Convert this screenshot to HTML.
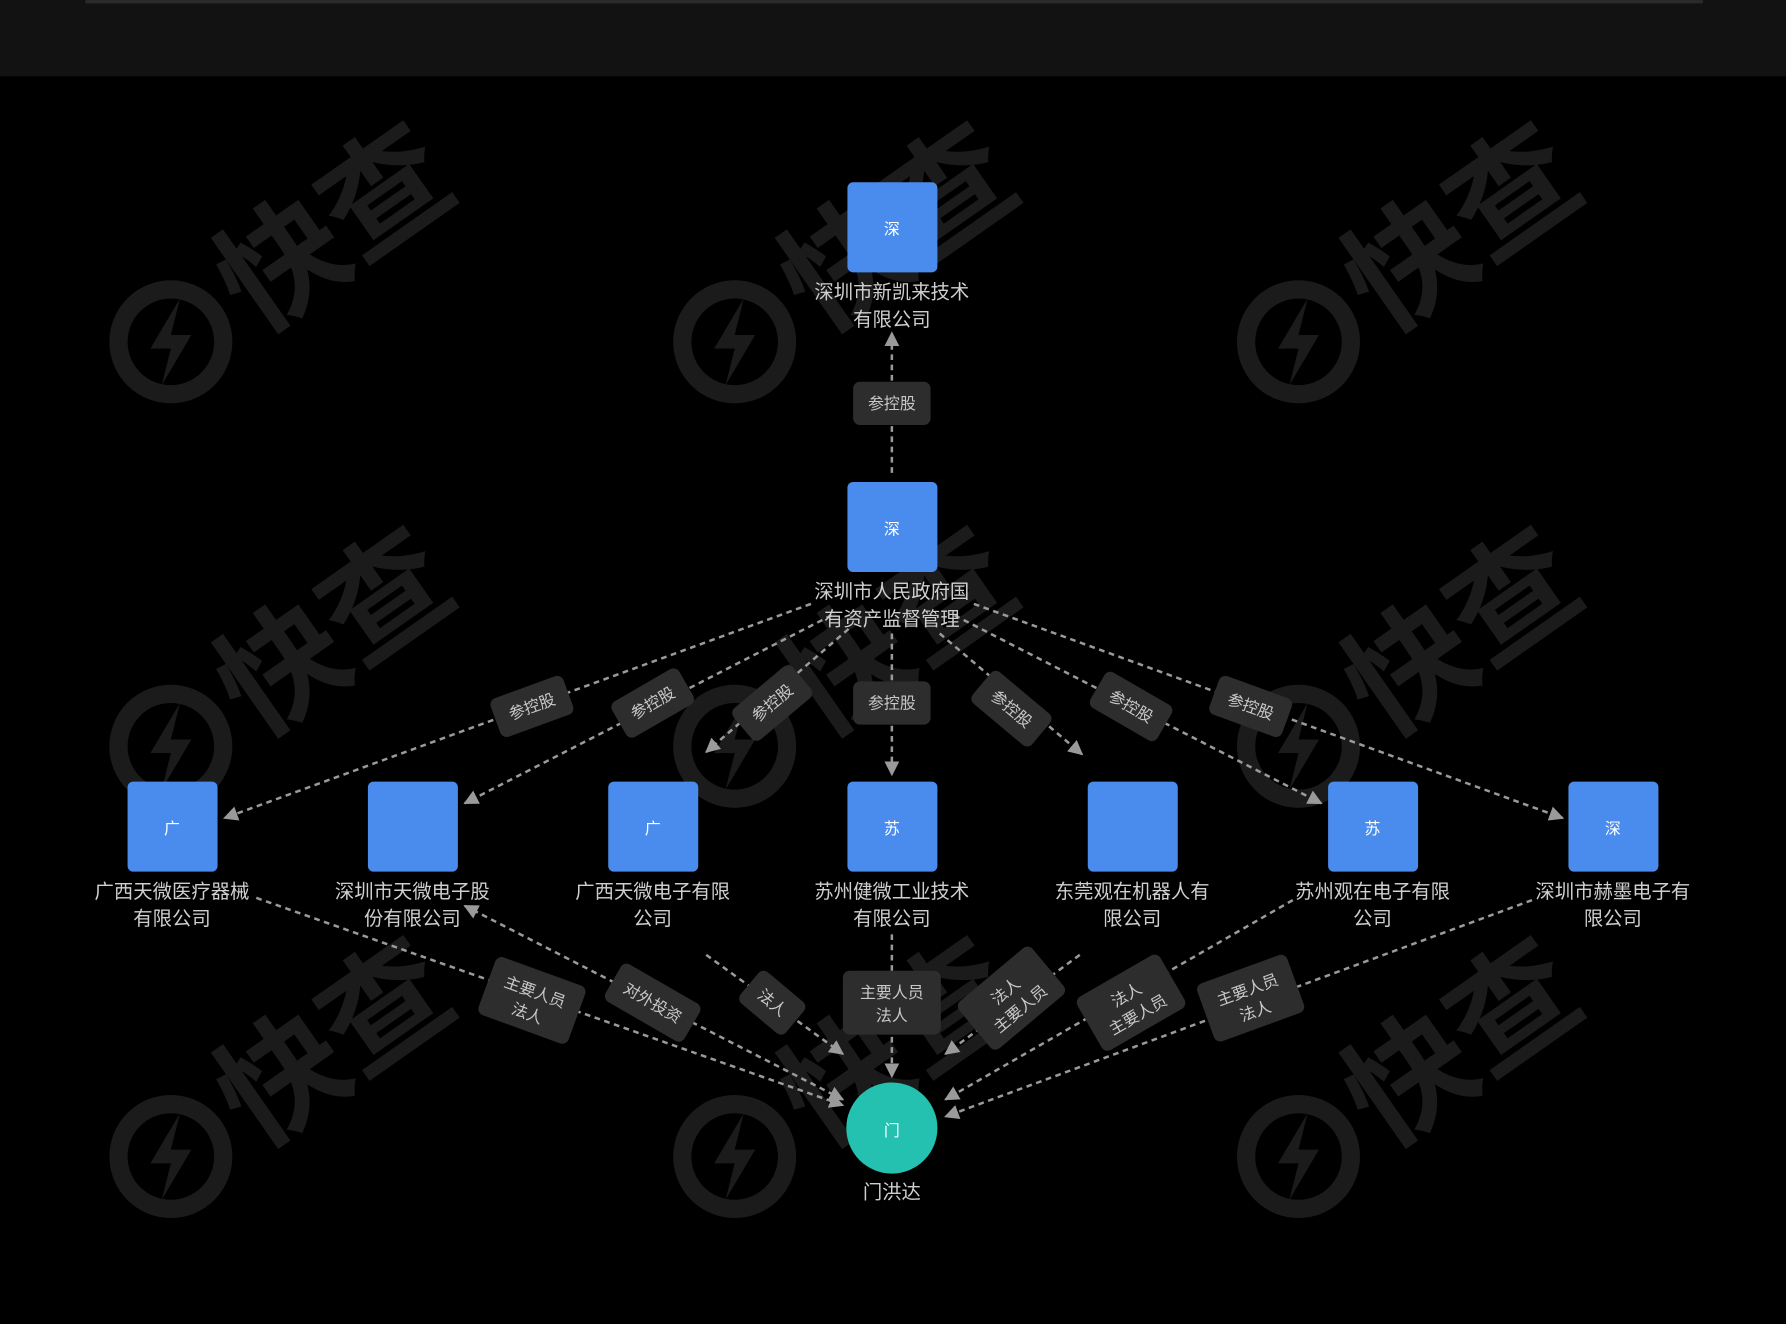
<!DOCTYPE html>
<html><head><meta charset="utf-8"><style>
html,body{margin:0;padding:0;background:#000;}
svg{display:block;}
text{font-family:"Liberation Sans","Noto Sans CJK SC",sans-serif;}
</style></head><body>
<svg width="1786" height="1324" viewBox="0 0 1568 1162" preserveAspectRatio="none" xmlns="http://www.w3.org/2000/svg">
<defs>
<marker id="a" viewBox="0 0 10 10" refX="9" refY="5" markerWidth="13" markerHeight="13" markerUnits="userSpaceOnUse" orient="auto"><path d="M0,0 L10,5 L0,10 z" fill="#9a9a9a"/></marker>
<marker id="b" viewBox="0 0 10 10" refX="1" refY="5" markerWidth="13" markerHeight="13" markerUnits="userSpaceOnUse" orient="auto"><path d="M10,0 L0,5 L10,10 z" fill="#9a9a9a"/></marker>
<g id="wm">
<circle cx="0" cy="0" r="46" fill="none" stroke="#1b1b1b" stroke-width="16"/>
<path d="M8,-38 L-18,6 L0,6 L-8,38 L18,-6 L0,-6 z" fill="#1b1b1b"/>
<text x="75" y="-5" font-size="110" font-weight="bold" fill="#1b1b1b" transform="rotate(-35 75 -5)">快查</text>
</g>
</defs>
<rect width="1568" height="1162" fill="#000"/>
<rect width="1568" height="67" fill="#121212"/>
<rect x="75" y="0" width="1420" height="3" fill="#2a2a2a"/>

<use href="#wm" x="150" y="300"/><use href="#wm" x="645" y="300"/><use href="#wm" x="1140" y="300"/>
<use href="#wm" x="150" y="655"/><use href="#wm" x="645" y="655"/><use href="#wm" x="1140" y="655"/>
<use href="#wm" x="150" y="1015"/><use href="#wm" x="645" y="1015"/><use href="#wm" x="1140" y="1015"/>

<g stroke="#9a9a9a" stroke-width="2.2" stroke-dasharray="5 4" fill="none">
<line x1="783" y1="415" x2="783" y2="292" marker-end="url(#a)"/>
<line x1="712" y1="530" x2="197" y2="718" marker-end="url(#a)"/>
<line x1="730" y1="540" x2="408" y2="705" marker-end="url(#a)"/>
<line x1="745" y1="552" x2="620" y2="660" marker-end="url(#a)"/>
<line x1="783" y1="556" x2="783" y2="680" marker-end="url(#a)"/>
<line x1="825" y1="556" x2="950" y2="662" marker-end="url(#a)"/>
<line x1="838" y1="540" x2="1160" y2="705" marker-end="url(#a)"/>
<line x1="855" y1="530" x2="1372" y2="718" marker-end="url(#a)"/>

<line x1="225" y1="788" x2="740" y2="970" marker-end="url(#a)"/>
<line x1="740" y1="965" x2="408" y2="795" marker-end="url(#a)" marker-start="url(#b)"/>
<line x1="620" y1="838" x2="740" y2="925" marker-end="url(#a)"/>
<line x1="783" y1="820" x2="783" y2="945" marker-end="url(#a)"/>
<line x1="948" y1="838" x2="830" y2="925" marker-end="url(#a)"/>
<line x1="1135" y1="790" x2="830" y2="965" marker-end="url(#a)"/>
<line x1="1345" y1="790" x2="830" y2="980" marker-end="url(#a)"/>
</g>

<g font-size="14" fill="#c8c8c8" text-anchor="middle">
<g transform="translate(783,354)"><rect x="-34" y="-19" width="68" height="38" rx="6" fill="#2d2d2d"/><text y="5">参控股</text></g>
<g transform="translate(467,620) rotate(-20)"><rect x="-34" y="-18" width="68" height="36" rx="6" fill="#2d2d2d"/><text y="5">参控股</text></g>
<g transform="translate(573,617) rotate(-30)"><rect x="-34" y="-18" width="68" height="36" rx="6" fill="#2d2d2d"/><text y="5">参控股</text></g>
<g transform="translate(678,617) rotate(-40)"><rect x="-34" y="-18" width="68" height="36" rx="6" fill="#2d2d2d"/><text y="5">参控股</text></g>
<g transform="translate(783,617)"><rect x="-34" y="-19" width="68" height="38" rx="6" fill="#2d2d2d"/><text y="5">参控股</text></g>
<g transform="translate(888,622) rotate(40)"><rect x="-34" y="-18" width="68" height="36" rx="6" fill="#2d2d2d"/><text y="5">参控股</text></g>
<g transform="translate(993,620) rotate(30)"><rect x="-34" y="-18" width="68" height="36" rx="6" fill="#2d2d2d"/><text y="5">参控股</text></g>
<g transform="translate(1098,620) rotate(20)"><rect x="-34" y="-18" width="68" height="36" rx="6" fill="#2d2d2d"/><text y="5">参控股</text></g>

<g transform="translate(467,878) rotate(20)"><rect x="-42" y="-27" width="84" height="54" rx="6" fill="#2d2d2d"/><text y="-3">主要人员</text><text y="17">法人</text></g>
<g transform="translate(573,880) rotate(30)"><rect x="-40" y="-19" width="80" height="38" rx="6" fill="#2d2d2d"/><text y="5">对外投资</text></g>
<g transform="translate(678,880) rotate(40)"><rect x="-26" y="-18" width="52" height="36" rx="6" fill="#2d2d2d"/><text y="5">法人</text></g>
<g transform="translate(783,880)"><rect x="-43" y="-28" width="86" height="56" rx="6" fill="#2d2d2d"/><text y="-4">主要人员</text><text y="16">法人</text></g>
<g transform="translate(888,876) rotate(-40)"><rect x="-42" y="-27" width="84" height="54" rx="6" fill="#2d2d2d"/><text y="-3">法人</text><text y="17">主要人员</text></g>
<g transform="translate(993,880) rotate(-30)"><rect x="-42" y="-27" width="84" height="54" rx="6" fill="#2d2d2d"/><text y="-3">法人</text><text y="17">主要人员</text></g>
<g transform="translate(1098,876) rotate(-20)"><rect x="-42" y="-27" width="84" height="54" rx="6" fill="#2d2d2d"/><text y="-3">主要人员</text><text y="17">法人</text></g>
</g>

<g fill="#4a8cee">
<rect x="744" y="160" width="79" height="79" rx="5"/>
<rect x="744" y="423" width="79" height="79" rx="5"/>
<rect x="112" y="686" width="79" height="79" rx="5"/>
<rect x="323" y="686" width="79" height="79" rx="5"/>
<rect x="534" y="686" width="79" height="79" rx="5"/>
<rect x="744" y="686" width="79" height="79" rx="5"/>
<rect x="955" y="686" width="79" height="79" rx="5"/>
<rect x="1166" y="686" width="79" height="79" rx="5"/>
<rect x="1377" y="686" width="79" height="79" rx="5"/>
</g>
<circle cx="783" cy="990" r="40" fill="#24c1b0"/>

<g font-size="14" fill="#fff" text-anchor="middle">
<text x="783" y="206">深</text>
<text x="783" y="469">深</text>
<text x="151" y="732">广</text>
<text x="573" y="732">广</text>
<text x="783" y="732">苏</text>
<text x="1205" y="732">苏</text>
<text x="1416" y="732">深</text>
<text x="783" y="997">门</text>
</g>

<g font-size="17" fill="#cfcfcf" text-anchor="middle">
<text x="783" y="262">深圳市新凯来技术</text><text x="783" y="286">有限公司</text>
<text x="783" y="525">深圳市人民政府国</text><text x="783" y="549">有资产监督管理</text>
<text x="151" y="788">广西天微医疗器械</text><text x="151" y="812">有限公司</text>
<text x="362" y="788">深圳市天微电子股</text><text x="362" y="812">份有限公司</text>
<text x="573" y="788">广西天微电子有限</text><text x="573" y="812">公司</text>
<text x="783" y="788">苏州健微工业技术</text><text x="783" y="812">有限公司</text>
<text x="994" y="788">东莞观在机器人有</text><text x="994" y="812">限公司</text>
<text x="1205" y="788">苏州观在电子有限</text><text x="1205" y="812">公司</text>
<text x="1416" y="788">深圳市赫墨电子有</text><text x="1416" y="812">限公司</text>
<text x="783" y="1052">门洪达</text>
</g>
</svg>
</body></html>
